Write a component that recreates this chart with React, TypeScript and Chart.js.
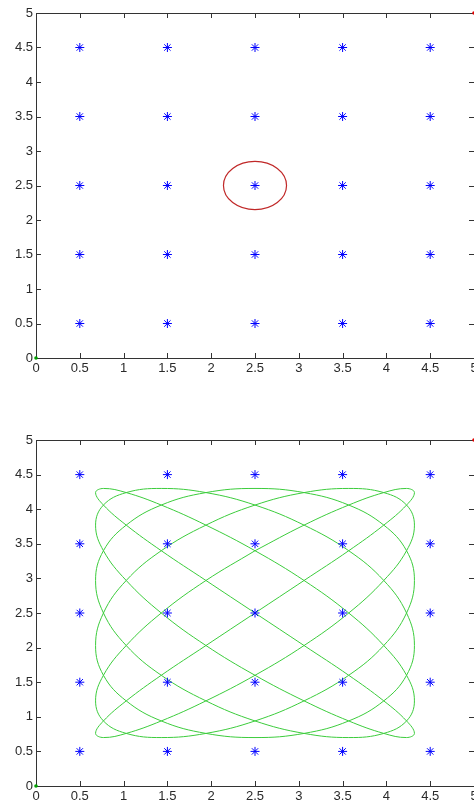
import React, { useEffect, useRef } from 'react';
import { Chart, registerables } from 'chart.js';

Chart.register(...registerables);

// Axis ticks shared by both panels
const tickValues = [0, 0.5, 1, 1.5, 2, 2.5, 3, 3.5, 4, 4.5, 5];
const tickLabels = ['0', '0.5', '1', '1.5', '2', '2.5', '3', '3.5', '4', '4.5', '5'];

// Target grid (blue asterisks)
const gridX = [0.5, 1.5, 2.5, 3.5, 4.5];
const gridY = [0.5, 1.5, 2.5, 3.5, 4.5];

// Highlight ring around the centre target (upper panel)
const ringCenterX = 2.5;
const ringCenterY = 2.5;
const ringRadiusX = 0.36;
const ringRadiusY = 0.35;

// Single markers at the axis corners
const originMark = [{ x: 0, y: 0 }];
const cornerMark = [{ x: 5, y: 5 }];

// Scan path of the lower panel, waypoints in drawing order (closed loop)
const sweepX = [
  2.50, 3.06, 3.57, 3.97, 4.23, 4.32, 4.23, 3.97, 3.57, 3.06, 2.50, 1.94, 1.43, 1.03, 0.77, 0.68, 0.77, 1.03, 1.43, 1.94,
  2.50, 3.06, 3.57, 3.97, 4.23, 4.32, 4.23, 3.97, 3.57, 3.06, 2.50, 1.94, 1.43, 1.03, 0.77, 0.68, 0.77, 1.03, 1.43, 1.94,
  2.50, 3.06, 3.57, 3.97, 4.23, 4.32, 4.23, 3.97, 3.57, 3.06, 2.50, 1.94, 1.43, 1.03, 0.77, 0.68, 0.77, 1.03, 1.43, 1.94,
  2.50, 3.06, 3.57, 3.97, 4.23, 4.32, 4.23, 3.97, 3.57, 3.06, 2.50, 1.94, 1.43, 1.03, 0.77, 0.68, 0.77, 1.03, 1.43, 1.94,
  2.50, 3.06, 3.57, 3.97, 4.23, 4.32, 4.23, 3.97, 3.57, 3.06, 2.50, 1.94, 1.43, 1.03, 0.77, 0.68, 0.77, 1.03, 1.43, 1.94,
  2.50, 3.06, 3.57, 3.97, 4.23, 4.32, 4.23, 3.97, 3.57, 3.06, 2.50, 1.94, 1.43, 1.03, 0.77, 0.68, 0.77, 1.03, 1.43, 1.94,
  2.50,
];
const sweepY = [
  3.40, 3.77, 4.06, 4.24, 4.30, 4.24, 4.06, 3.77, 3.40, 2.97, 2.50, 2.03, 1.60, 1.23, 0.94, 0.76, 0.70, 0.76, 0.94, 1.23, 1.60, 2.03, 2.50, 2.97,
  3.40, 3.77, 4.06, 4.24, 4.30, 4.24, 4.06, 3.77, 3.40, 2.97, 2.50, 2.03, 1.60, 1.23, 0.94, 0.76, 0.70, 0.76, 0.94, 1.23, 1.60, 2.03, 2.50, 2.97,
  3.40, 3.77, 4.06, 4.24, 4.30, 4.24, 4.06, 3.77, 3.40, 2.97, 2.50, 2.03, 1.60, 1.23, 0.94, 0.76, 0.70, 0.76, 0.94, 1.23, 1.60, 2.03, 2.50, 2.97,
  3.40, 3.77, 4.06, 4.24, 4.30, 4.24, 4.06, 3.77, 3.40, 2.97, 2.50, 2.03, 1.60, 1.23, 0.94, 0.76, 0.70, 0.76, 0.94, 1.23, 1.60, 2.03, 2.50, 2.97,
  3.40, 3.77, 4.06, 4.24, 4.30, 4.24, 4.06, 3.77, 3.40, 2.97, 2.50, 2.03, 1.60, 1.23, 0.94, 0.76, 0.70, 0.76, 0.94, 1.23, 1.60, 2.03, 2.50, 2.97,
  3.40,
];

const gridPoints = gridY.flatMap((y) => gridX.map((x) => ({ x, y })));
const sweepPoints = sweepX.map((x, i) => ({ x, y: sweepY[i] }));

const FONT = { family: "'Liberation Sans', Arial, sans-serif", size: 13 };
const AXIS_COLOR = '#333333';

// MATLAB-like box with inward ticks on all four sides
const boxPlugin = {
  id: 'box',
  beforeDatasetsDraw(chart: any) {
    const { ctx, chartArea: a, scales } = chart;
    const L = 5;
    ctx.save();
    ctx.strokeStyle = AXIS_COLOR;
    ctx.lineWidth = 1;
    ctx.beginPath();
    ctx.rect(a.left + 0.5, a.top + 0.5, a.right - a.left, a.bottom - a.top);
    scales.x.ticks.forEach((t: any) => {
      const px = Math.round(scales.x.getPixelForValue(t.value)) + 0.5;
      ctx.moveTo(px, a.bottom);
      ctx.lineTo(px, a.bottom - L);
      ctx.moveTo(px, a.top);
      ctx.lineTo(px, a.top + L);
    });
    scales.y.ticks.forEach((t: any) => {
      const py = Math.round(scales.y.getPixelForValue(t.value)) + 0.5;
      ctx.moveTo(a.left, py);
      ctx.lineTo(a.left + L, py);
      ctx.moveTo(a.right, py);
      ctx.lineTo(a.right - L, py);
    });
    ctx.stroke();
    ctx.restore();
  },
};

// Red ring drawn in data coordinates
const ringPlugin = {
  id: 'ring',
  afterDatasetsDraw(chart: any) {
    const { ctx, scales } = chart;
    const cx = scales.x.getPixelForValue(ringCenterX);
    const cy = scales.y.getPixelForValue(ringCenterY);
    const rx = Math.abs(scales.x.getPixelForValue(ringCenterX + ringRadiusX) - cx);
    const ry = Math.abs(scales.y.getPixelForValue(ringCenterY + ringRadiusY) - cy);
    ctx.save();
    ctx.strokeStyle = '#c02828';
    ctx.lineWidth = 1.2;
    ctx.beginPath();
    ctx.ellipse(cx, cy, rx, ry, 0, 0, Math.PI * 2);
    ctx.stroke();
    ctx.restore();
  },
};

function noPad(s: any) {
  s.paddingLeft = 0;
  s.paddingRight = 0;
  s.paddingTop = 0;
  s.paddingBottom = 0;
}

function axis(afterFit: (s: any) => void) {
  return {
    type: 'linear',
    min: 0,
    max: 5,
    grid: { display: false, drawTicks: false },
    border: { display: false },
    afterBuildTicks: (s: any) => {
      s.ticks = tickValues.map((v) => ({ value: v }));
    },
    afterFit: (s: any) => {
      afterFit(s);
      noPad(s);
    },
    ticks: {
      font: FONT,
      color: '#2a2a2a',
      padding: 3,
      maxRotation: 0,
      autoSkip: false,
      callback: (_v: any, i: number) => tickLabels[i],
    },
  };
}

function buildConfig(padTop: number, xAxisHeight: number, withRing: boolean, withSweep: boolean) {
  const datasets: any[] = [
    {
      data: gridPoints,
      pointStyle: 'star',
      pointRadius: 4.5,
      borderColor: '#0000ff',
      backgroundColor: '#0000ff',
      borderWidth: 1,
      order: 0,
    },
    {
      data: originMark,
      pointStyle: 'circle',
      pointRadius: 1.8,
      borderWidth: 0,
      backgroundColor: '#00a000',
      clip: false,
      order: 1,
    },
    {
      data: cornerMark,
      pointStyle: 'circle',
      pointRadius: 1.8,
      borderWidth: 0,
      backgroundColor: '#e00000',
      clip: false,
      order: 1,
    },
  ];
  if (withSweep) {
    datasets.push({
      data: sweepPoints,
      showLine: true,
      borderColor: '#3ccc3c',
      borderWidth: 1,
      pointRadius: 0,
      tension: 0.4,
      order: 5,
    });
  }
  return {
    type: 'scatter',
    data: { datasets },
    options: {
      animation: false,
      responsive: false,
      devicePixelRatio: 1,
      layout: { padding: { top: padTop, left: 0, right: 0, bottom: 0 }, autoPadding: false },
      plugins: { legend: { display: false }, tooltip: { enabled: false } },
      events: [],
      scales: {
        x: axis((s: any) => { s.height = xAxisHeight; }),
        y: axis((s: any) => { s.width = 36; }),
      },
    },
    plugins: withRing ? [boxPlugin, ringPlugin] : [boxPlugin],
  } as any;
}

function Panel({ top, height, padTop, xAxisHeight, withRing, withSweep }: any) {
  const ref = useRef<HTMLCanvasElement>(null);
  useEffect(() => {
    const chart = new Chart(ref.current!, buildConfig(padTop, xAxisHeight, withRing, withSweep));
    return () => chart.destroy();
  }, []);
  return (
    <canvas
      ref={ref}
      width={474}
      height={height}
      style={{ position: 'absolute', left: 0, top, width: 474, height }}
    />
  );
}

export default function App() {
  return (
    <div style={{ position: 'fixed', left: 0, top: 0, width: 474, height: 804, background: '#fff', overflow: 'hidden' }}>
      <Panel top={0} height={392} padTop={13} xAxisHeight={34} withRing={true} withSweep={false} />
      <Panel top={404} height={400} padTop={36} xAxisHeight={18} withRing={false} withSweep={true} />
    </div>
  );
}
